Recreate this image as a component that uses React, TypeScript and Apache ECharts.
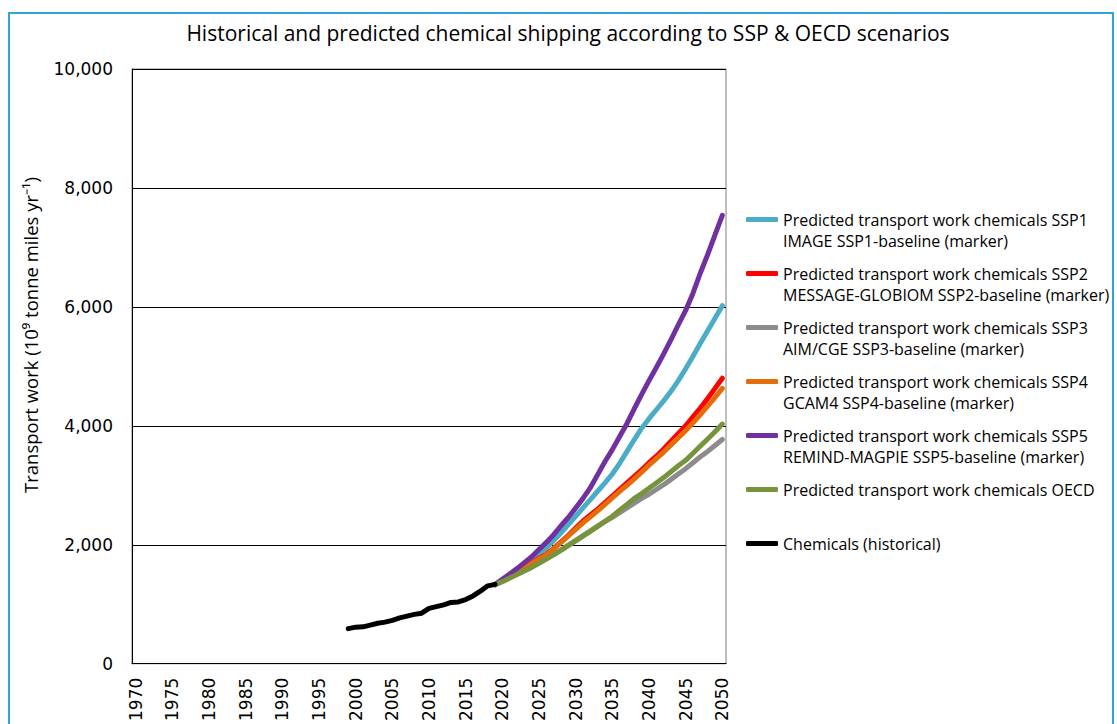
import React, { useEffect, useRef } from "react";
import * as echarts from "echarts";

const categories: string[] = [];
for (let y = 1970; y <= 2050; y++) categories.push(String(y));

const yTicks = [0, 2000, 4000, 6000, 8000, 10000];

const histYears = ["1999","2000","2001","2002","2003","2004","2005","2006","2007","2008","2009","2010","2011","2012","2013","2014","2015","2016","2017","2018","2019"];
const historical = [590, 615, 620, 650, 680, 700, 730, 770, 800, 830, 850, 930, 960, 990, 1030, 1040, 1080, 1140, 1220, 1310, 1335];

const projYears = ["2019","2020","2021","2022","2023","2024","2025","2026","2027","2028","2029","2030","2031","2032","2033","2034","2035","2036","2037","2038","2039","2040","2041","2042","2043","2044","2045","2046","2047","2048","2049","2050"];
const ssp1 = [1330, 1410, 1490, 1570, 1660, 1750, 1850, 1950, 2070, 2200, 2340, 2480, 2620, 2760, 2900, 3040, 3190, 3370, 3570, 3770, 3960, 4120, 4270, 4420, 4580, 4760, 4960, 5170, 5390, 5600, 5810, 6020];
const ssp2 = [1330, 1400, 1470, 1540, 1610, 1690, 1770, 1840, 1940, 2050, 2160, 2280, 2400, 2500, 2600, 2710, 2820, 2930, 3040, 3150, 3260, 3380, 3490, 3610, 3740, 3870, 4000, 4150, 4300, 4460, 4630, 4800];
const ssp3 = [1330, 1385, 1445, 1505, 1565, 1630, 1700, 1770, 1840, 1915, 1995, 2075, 2155, 2235, 2315, 2390, 2460, 2540, 2620, 2700, 2780, 2850, 2930, 3010, 3100, 3190, 3280, 3380, 3480, 3570, 3670, 3770];
const ssp4 = [1330, 1400, 1465, 1535, 1605, 1685, 1760, 1830, 1930, 2040, 2150, 2260, 2370, 2470, 2570, 2680, 2790, 2900, 3000, 3110, 3220, 3340, 3450, 3560, 3680, 3800, 3920, 4050, 4190, 4330, 4480, 4630];
const ssp5 = [1330, 1420, 1510, 1600, 1700, 1800, 1920, 2040, 2170, 2320, 2460, 2620, 2780, 2960, 3180, 3400, 3600, 3820, 4040, 4290, 4530, 4760, 4980, 5210, 5450, 5700, 5940, 6230, 6570, 6880, 7210, 7540];
const oecd = [1330, 1380, 1440, 1500, 1560, 1620, 1690, 1760, 1830, 1905, 1985, 2065, 2145, 2225, 2310, 2395, 2480, 2580, 2680, 2780, 2860, 2950, 3040, 3130, 3230, 3330, 3420, 3540, 3660, 3780, 3900, 4030];

const seriesNames = [
  "Predicted transport work chemicals SSP1",
  "Predicted transport work chemicals SSP2",
  "Predicted transport work chemicals SSP3",
  "Predicted transport work chemicals SSP4",
  "Predicted transport work chemicals SSP5",
  "Predicted transport work chemicals OECD",
  "Chemicals (historical)",
];
const legendSecondLines = [
  "IMAGE SSP1-baseline (marker)",
  "MESSAGE-GLOBIOM SSP2-baseline (marker)",
  "AIM/CGE SSP3-baseline (marker)",
  "GCAM4 SSP4-baseline (marker)",
  "REMIND-MAGPIE SSP5-baseline (marker)",
  "",
  "",
];
const colors = ["#4BACC6", "#FF0000", "#8C8C8C", "#E46C0A", "#7030A0", "#77933C", "#000000"];

const TITLE = "Historical and predicted chemical shipping according to SSP & OECD scenarios";
const Y_NAME = "Transport work (10\u2079 tonne miles yr\u207B\u00B9)";

function pairs(xs: string[], vs: number[]) {
  return xs.map((x, i) => [x, vs[i]]);
}

export default function App() {
  const ref = useRef<HTMLDivElement>(null);
  useEffect(() => {
    if (!ref.current) return;
    const chart = echarts.init(ref.current, null, { renderer: "svg" });
    const projData = [ssp1, ssp2, ssp3, ssp4, ssp5, oecd];
    const series: any[] = projData.map((d, i) => ({
      name: seriesNames[i],
      type: "line",
      data: pairs(projYears, d),
      symbol: "none",
      color: colors[i],
      lineStyle: { width: 5, color: colors[i], cap: "round", join: "round" },
      z: 2 + i,
    }));
    series.push({
      name: seriesNames[6],
      type: "line",
      data: pairs(histYears, historical),
      symbol: "none",
      color: colors[6],
      lineStyle: { width: 5, color: colors[6], cap: "round", join: "round" },
      z: 10,
    });
    chart.setOption({
      animation: false,
      backgroundColor: "#ffffff",
      title: {
        text: TITLE,
        left: 563,
        top: 17,
        textAlign: "center",
        textStyle: { fontFamily: "Open Sans", fontSize: 21, fontWeight: "normal", color: "#000" },
      },
      graphic: [
        {
          type: "rect",
          shape: { x: 9, y: 13, width: 1104, height: 730 },
          style: { fill: "none", stroke: "#2FA4DC", lineWidth: 2 },
          silent: true,
        },
        {
          type: "text",
          x: 30,
          y: 335,
          rotation: Math.PI / 2,
          style: {
            text: Y_NAME,
            textAlign: "center",
            textVerticalAlign: "middle",
            fontFamily: "Open Sans",
            fontSize: 18.5,
            fill: "#000",
          },
        },
      ],
      legend: {
        orient: "vertical",
        left: 746,
        top: 188,
        padding: 0,
        icon: "roundRect",
        itemWidth: 32,
        itemHeight: 5,
        itemGap: -9,
        data: seriesNames,
        formatter: (name: string) => {
          const i = seriesNames.indexOf(name);
          return " \n" + name + "\n" + (legendSecondLines[i] || " ");
        },
        textStyle: {
          fontFamily: "Open Sans",
          fontSize: 16,
          lineHeight: 21,
          color: "#000",
        },
      },
      grid: {
        left: 132,
        width: 594,
        top: 69,
        height: 601,
        show: true,
        borderColor: "#7F7F7F",
        borderWidth: 1,
        backgroundColor: "transparent",
      },
      xAxis: {
        type: "category",
        data: categories,
        boundaryGap: true,
        axisLine: { lineStyle: { color: "#000", width: 1 } },
        axisTick: { interval: 4, inside: true, length: 7, lineStyle: { color: "#000" } },
        axisLabel: {
          interval: 4,
          rotate: 90,
          margin: 14,
          fontFamily: "DejaVu Sans",
          fontSize: 17,
          color: "#000",
        },
        splitLine: { show: false },
      },
      yAxis: {
        type: "value",
        min: yTicks[0],
        max: yTicks[yTicks.length - 1],
        interval: 2000,
        axisLine: { show: true, lineStyle: { color: "#000", width: 1 } },
        axisTick: { show: false },
        axisLabel: {
          margin: 19,
          fontFamily: "DejaVu Sans",
          fontSize: 17,
          color: "#000",
          formatter: (v: number) => v.toLocaleString("en-US"),
        },
        splitLine: { show: true, lineStyle: { color: "#000", width: 1 } },
      },
      series,
    });
    return () => chart.dispose();
  }, []);
  return (
    <div
      ref={ref}
      style={{ position: "fixed", left: 0, top: 0, width: 1117, height: 724, background: "#fff" }}
    />
  );
}
